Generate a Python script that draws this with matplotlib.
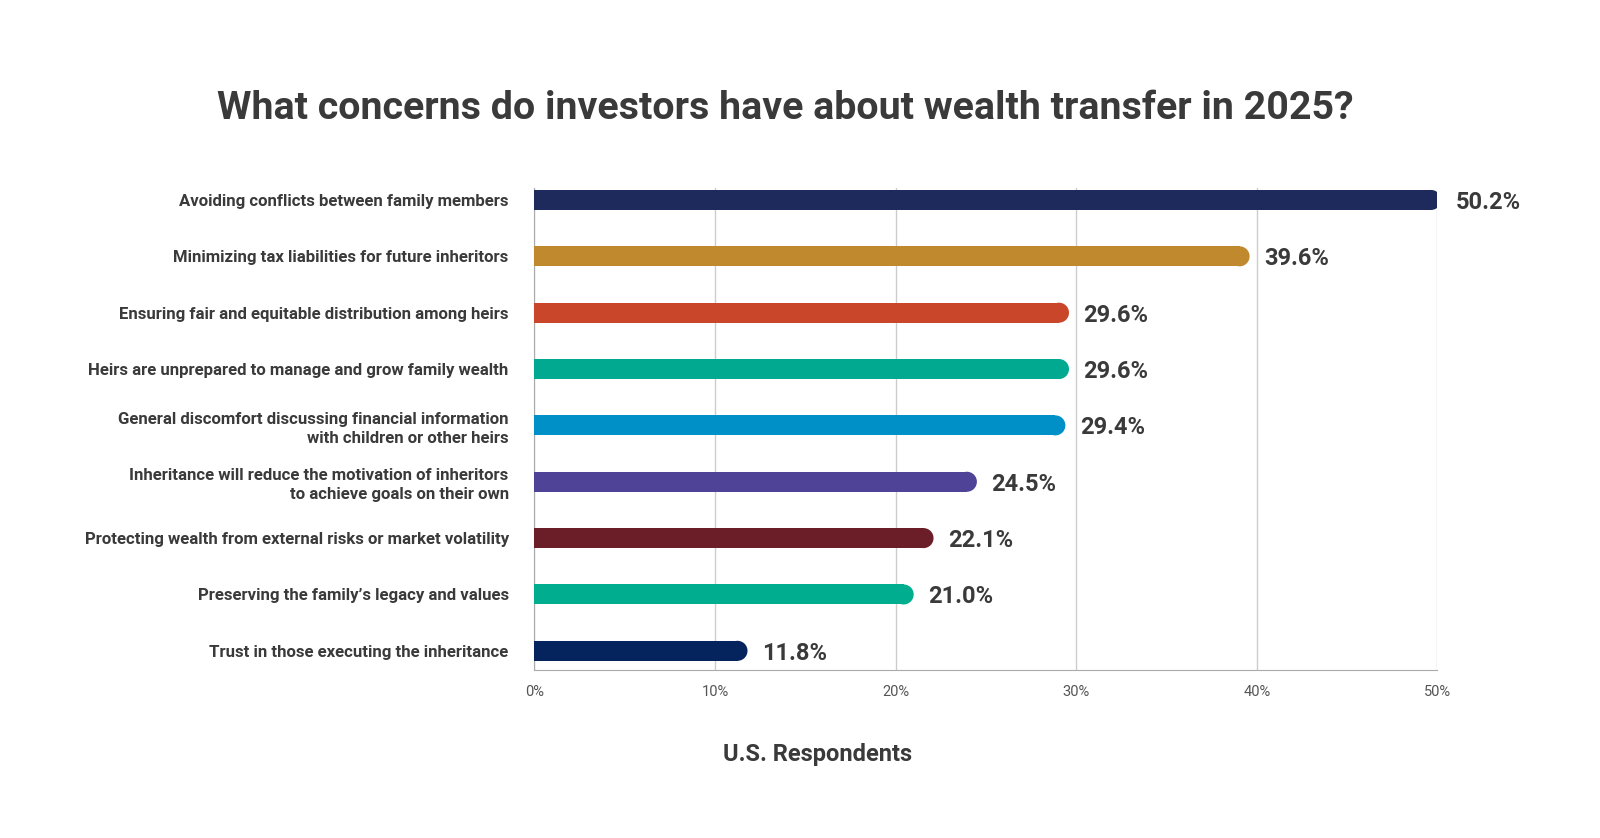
import matplotlib
matplotlib.use("Agg")
import matplotlib.pyplot as plt
from matplotlib.patches import Ellipse

plt.rcParams['font.family'] = ['Roboto', 'DejaVu Sans']

# data
concerns = [
    "Avoiding conflicts between family members",
    "Minimizing tax liabilities for future inheritors",
    "Ensuring fair and equitable distribution among heirs",
    "Heirs are unprepared to manage and grow family wealth",
    "General discomfort discussing financial information\nwith children or other heirs",
    "Inheritance will reduce the motivation of inheritors\nto achieve goals on their own",
    "Protecting wealth from external risks or market volatility",
    "Preserving the family\u2019s legacy and values",
    "Trust in those executing the inheritance",
]
values = [50.2, 39.6, 29.6, 29.6, 29.4, 24.5, 22.1, 21.0, 11.8]
colors = ["#1f2a5c", "#c0892e", "#c9462a", "#00a98f", "#0090c8",
          "#4e4397", "#6b1e28", "#00ad8e", "#05235c"]
ticks = [0, 10, 20, 30, 40, 50]
tick_labels = ["0%", "10%", "20%", "30%", "40%", "50%"]

text_col = "#3a3a3a"

fig = plt.figure(figsize=(16, 8.38), dpi=100)
ax = fig.add_axes([0.334, 0.2005, 0.5644, 0.575])

bar_h = 0.355
ax.set_xlim(0, 50)
ax.set_ylim(8.34, -0.21)

# radius of round end in data units (x)
px_per_unit = 0.5644 * 1600 / 50
r = (bar_h * 0.575 * 838 / 8.55) / 2 / px_per_unit

for i, (v, c) in enumerate(zip(values, colors)):
    ax.barh(i, v - r, height=bar_h, color=c, zorder=3)
    ax.add_patch(Ellipse((v - r, i), 2 * r, bar_h, color=c, zorder=3, lw=0))
    ax.text(v + 0.8, i, f"{v:.1f}%", va="center_baseline", ha="left",
            fontsize=17, fontweight="bold", color=text_col)

ax.set_xticks(ticks)
ax.set_xticklabels(tick_labels, color="#555555", fontsize=10.5)
ax.tick_params(axis="x", length=0, pad=11)
ax.set_yticks(range(len(concerns)))
ax.set_yticklabels(concerns, fontsize=12.1, fontweight="bold", color=text_col,
                   linespacing=1.35)
ax.tick_params(axis="y", length=0, pad=18.5)

ax.grid(axis="x", color="#cccccc", lw=1, zorder=0)
for s in ["top", "right"]:
    ax.spines[s].set_visible(False)
ax.spines["left"].set_color("#aaaaaa")
ax.spines["bottom"].set_color("#aaaaaa")

fig.text(0.491, 0.871, "What concerns do investors have about wealth transfer in 2025?",
         ha="center", va="center", fontsize=28.4, fontweight="bold", color=text_col)
fig.text(0.511, 0.1, "U.S. Respondents", ha="center", va="center",
         fontsize=17, fontweight="bold", color=text_col)

fig.savefig("out.png", dpi=100, facecolor="white")
